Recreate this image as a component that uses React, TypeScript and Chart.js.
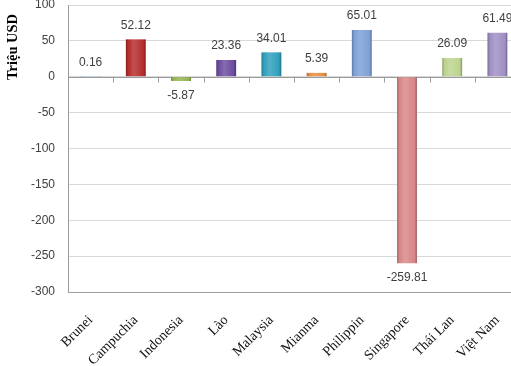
import React, { useEffect, useRef } from "react";
import { Chart, registerables } from "chart.js";

Chart.register(...registerables);

const categories = ["Brunei", "Campuchia", "Indonesia", "Lào", "Malaysia", "Mianma", "Philippin", "Singapore", "Thái Lan", "Việt Nam"];
const values = [0.16, 52.12, -5.87, 23.36, 34.01, 5.39, 65.01, -259.81, 26.09, 61.49];
const barColors = ["#a9c6e8", "#b52b2b", "#93b34c", "#6b4b9f", "#2f9fbc", "#e98a3a", "#7da0d6", "#d88585", "#bcd38e", "#9f8ec3"];
const yTitle = "Triệu USD";

function shade(hex: string, f: number): string {
  const n = parseInt(hex.slice(1), 16);
  let r = (n >> 16) & 255, g = (n >> 8) & 255, b = n & 255;
  if (f >= 0) {
    r = Math.round(r + (255 - r) * f); g = Math.round(g + (255 - g) * f); b = Math.round(b + (255 - b) * f);
  } else {
    r = Math.round(r * (1 + f)); g = Math.round(g * (1 + f)); b = Math.round(b * (1 + f));
  }
  return `rgb(${r},${g},${b})`;
}

export default function App() {
  const ref = useRef<HTMLCanvasElement>(null);
  useEffect(() => {
    const canvas = ref.current!;
    const zeroAxis = {
      id: "zeroAxis",
      beforeDatasetsDraw(chart: any) {
        const { ctx, chartArea } = chart;
        const x = chart.scales.x, y = chart.scales.y;
        const y0 = Math.round(y.getPixelForValue(0)) + 0.5;
        ctx.save();
        ctx.strokeStyle = "#9a9a9a";
        ctx.lineWidth = 1;
        ctx.beginPath();
        ctx.moveTo(chartArea.left, y0);
        ctx.lineTo(chartArea.right, y0);
        const n = categories.length;
        for (let i = 1; i < n; i++) {
          const px = Math.round((x.getPixelForValue(i - 1) + x.getPixelForValue(i)) / 2) + 0.5;
          ctx.moveTo(px, y0);
          ctx.lineTo(px, y0 + 5);
        }
        ctx.stroke();
        ctx.restore();
      },
    };
    const labelsPlugin = {
      id: "valueLabels",
      afterDatasetsDraw(chart: any) {
        const { ctx } = chart;
        const meta = chart.getDatasetMeta(0);
        ctx.save();
        ctx.font = "12px 'Liberation Sans', Arial, sans-serif";
        ctx.fillStyle = "#404040";
        ctx.textAlign = "center";
        ctx.textBaseline = "middle";
        meta.data.forEach((el: any, i: number) => {
          const v = values[i];
          const yy = v >= 0 ? el.y - 14 : el.y + 15;
          ctx.fillText(String(v), el.x, yy);
        });
        ctx.restore();
      },
    };
    const titlePlugin = {
      id: "yTitle",
      afterDraw(chart: any) {
        const { ctx } = chart;
        ctx.save();
        ctx.translate(13, 47);
        ctx.rotate(-Math.PI / 2);
        ctx.font = "bold 14.5px 'Liberation Serif', 'Times New Roman', serif";
        ctx.fillStyle = "#000";
        ctx.textAlign = "center";
        ctx.textBaseline = "middle";
        ctx.fillText(yTitle, 0, 0);
        ctx.restore();
      },
    };
    const chart = new Chart(canvas, {
      type: "bar",
      data: {
        labels: categories,
        datasets: [
          {
            data: values,
            barPercentage: 0.88,
            categoryPercentage: 0.5,
            borderWidth: 0,
            backgroundColor: (c: any) => {
              const ch = c.chart;
              const base = barColors[c.dataIndex % barColors.length];
              if (!ch.chartArea || !ch.scales.x) return base;
              const cx = ch.scales.x.getPixelForValue(c.dataIndex);
              const half = 10;
              const g = ch.ctx.createLinearGradient(cx - half, 0, cx + half, 0);
              g.addColorStop(0, shade(base, -0.25));
              g.addColorStop(0.12, base);
              g.addColorStop(0.4, shade(base, 0.18));
              g.addColorStop(0.88, base);
              g.addColorStop(1, shade(base, -0.3));
              return g;
            },
          },
        ],
      },
      options: {
        animation: false,
        responsive: false,
        devicePixelRatio: 1,
        layout: { padding: { top: 5, left: 0, right: 0, bottom: 0 } },
        plugins: { legend: { display: false }, tooltip: { enabled: false } },
        scales: {
          x: {
            grid: { display: false },
            border: { display: false },
            ticks: {
              maxRotation: 45,
              minRotation: 45,
              padding: 12,
              color: "#111",
              font: { family: "'Liberation Serif', 'Times New Roman', serif", size: 14 },
            },
            afterFit: (s: any) => { s.height = 74; s.paddingLeft = 0; s.paddingRight = 0; },
          },
          y: {
            min: -300,
            max: 100,
            ticks: {
              stepSize: 50,
              padding: 13,
              color: "#404040",
              font: { family: "'Liberation Sans', Arial, sans-serif", size: 12 },
            },
            grid: {
              drawTicks: false,
              color: (c: any) => (c.tick && c.tick.value === -300 ? "#a0a0a0" : "#d9d9d9"),
            },
            border: { display: true, color: "#9a9a9a" },
            afterFit: (s: any) => { s.width = 68; s.paddingTop = 0; s.paddingBottom = 0; },
          },
        },
      },
      plugins: [zeroAxis, labelsPlugin, titlePlugin],
    });
    return () => chart.destroy();
  }, []);
  return (
    <div style={{ position: "fixed", left: 0, top: 0, width: 511, height: 366, overflow: "hidden", background: "#fff" }}>
      <canvas ref={ref} width={520} height={366} style={{ display: "block" }} />
    </div>
  );
}
